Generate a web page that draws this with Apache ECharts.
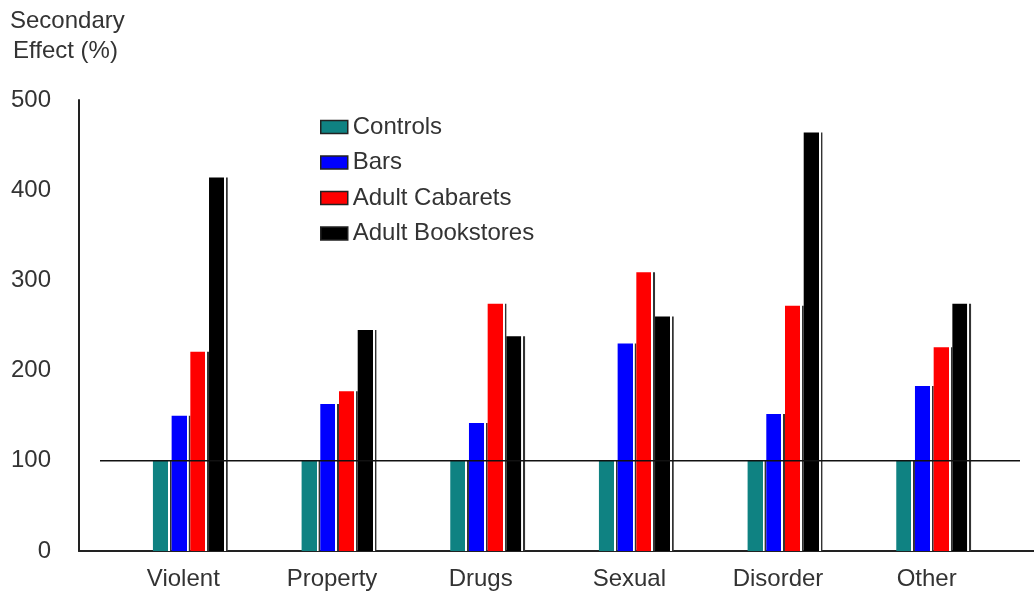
<!DOCTYPE html>
<html>
<head>
<meta charset="utf-8">
<script src="https://cdn.jsdelivr.net/npm/echarts@6/dist/echarts.min.js"></script>
<style>
html,body{margin:0;padding:0;background:#fff;}
#chart{width:1034px;height:593px;}
</style>
</head>
<body>
<div id="chart"></div>
<script>
const categories = ['Violent', 'Property', 'Drugs', 'Sexual', 'Disorder', 'Other'];
const seriesNames = ['Controls', 'Bars', 'Adult Cabarets', 'Adult Bookstores'];
const controls = [100, 100, 100, 100, 100, 100];
const bars = [150, 163, 142, 230, 152, 183];
const adultCabarets = [221, 177, 274, 309, 272, 226];
const adultBookstores = [414, 245, 238, 260, 464, 274];
const baselineValue = [100, 100];
const yTicks = [0, 100, 200, 300, 400, 500];

const colors = ['#0f8282', '#0000ff', '#ff0000', '#000000'];
const values = [controls, bars, adultCabarets, adultBookstores];
const FONT = '"Liberation Sans", Arial, sans-serif';
const TXT = '#333333';
const FS = 24;

function barFill(c) {
  return new echarts.graphic.LinearGradient(0, 0, 1, 0, [
    {offset: 0, color: c},
    {offset: 0.80, color: c},
    {offset: 0.81, color: '#ffffff'},
    {offset: 0.90, color: '#ffffff'},
    {offset: 0.91, color: '#333333'},
    {offset: 1, color: '#333333'}
  ]);
}

const chart = echarts.init(document.getElementById('chart'));
const option = {
  animation: false,
  backgroundColor: '#ffffff',
  textStyle: {fontFamily: FONT},
  title: {
    text: '{a|Secondary}\n{b|Effect (%)}',
    left: 5, top: 1,
    textStyle: {
      fontSize: FS, fontWeight: 'normal', color: TXT, lineHeight: 30, fontFamily: FONT,
      rich: {
        a: {fontSize: FS, color: TXT, lineHeight: 30, fontFamily: FONT},
        b: {fontSize: FS, color: TXT, lineHeight: 30, fontFamily: FONT, padding: [0, 0, 0, 3]}
      }
    }
  },
  legend: {
    orient: 'vertical',
    left: 320, top: 115, padding: 0,
    itemWidth: 27, itemHeight: 13, itemGap: 11.5,
    textStyle: {fontSize: FS, color: TXT, lineHeight: 24, fontFamily: FONT},
    data: seriesNames.map((n, i) => ({
      name: n, icon: 'rect',
      itemStyle: {color: colors[i], borderColor: '#222', borderWidth: 1.5}
    }))
  },
  grid: [
    {left: 79, right: 0, top: 100, bottom: 42},
    {left: 116, right: 26, top: 100, bottom: 42},
    {left: 100, right: 14, top: 100, bottom: 42}
  ],
  xAxis: [
    {gridIndex: 0, type: 'category', data: [''], axisLine: {show: true, lineStyle: {color: '#222', width: 2}},
     axisTick: {show: false}, axisLabel: {show: false}},
    {gridIndex: 1, type: 'category', data: categories, axisLine: {show: false}, axisTick: {show: false},
     axisLabel: {fontSize: FS, color: TXT, margin: 16, padding: [0, 14, 0, 0], fontFamily: FONT}},
    {gridIndex: 2, type: 'category', data: ['', ''], boundaryGap: false, show: false}
  ],
  yAxis: [
    {gridIndex: 0, type: 'value', min: yTicks[0], max: yTicks[yTicks.length - 1], interval: 100,
     axisLine: {show: true, lineStyle: {color: '#222', width: 2}}, axisTick: {show: false},
     splitLine: {show: false},
     axisLabel: {fontSize: FS, color: TXT, margin: 28, fontFamily: FONT}},
    {gridIndex: 1, type: 'value', min: 0, max: 500, show: false, splitLine: {show: false}},
    {gridIndex: 2, type: 'value', min: 0, max: 500, show: false, splitLine: {show: false}}
  ],
  series: [
    ...seriesNames.map((n, i) => ({
      name: n, type: 'bar', xAxisIndex: 1, yAxisIndex: 1,
      data: values[i], barWidth: 18.7, barGap: '0%',
      itemStyle: {color: barFill(colors[i])},
      z: 2
    })),
    {
      name: 'baseline', type: 'line', xAxisIndex: 2, yAxisIndex: 2,
      data: baselineValue, symbol: 'none', silent: true,
      lineStyle: {color: '#111', width: 1.5}, z: 5
    }
  ]
};
chart.setOption(option);
</script>
</body>
</html>
